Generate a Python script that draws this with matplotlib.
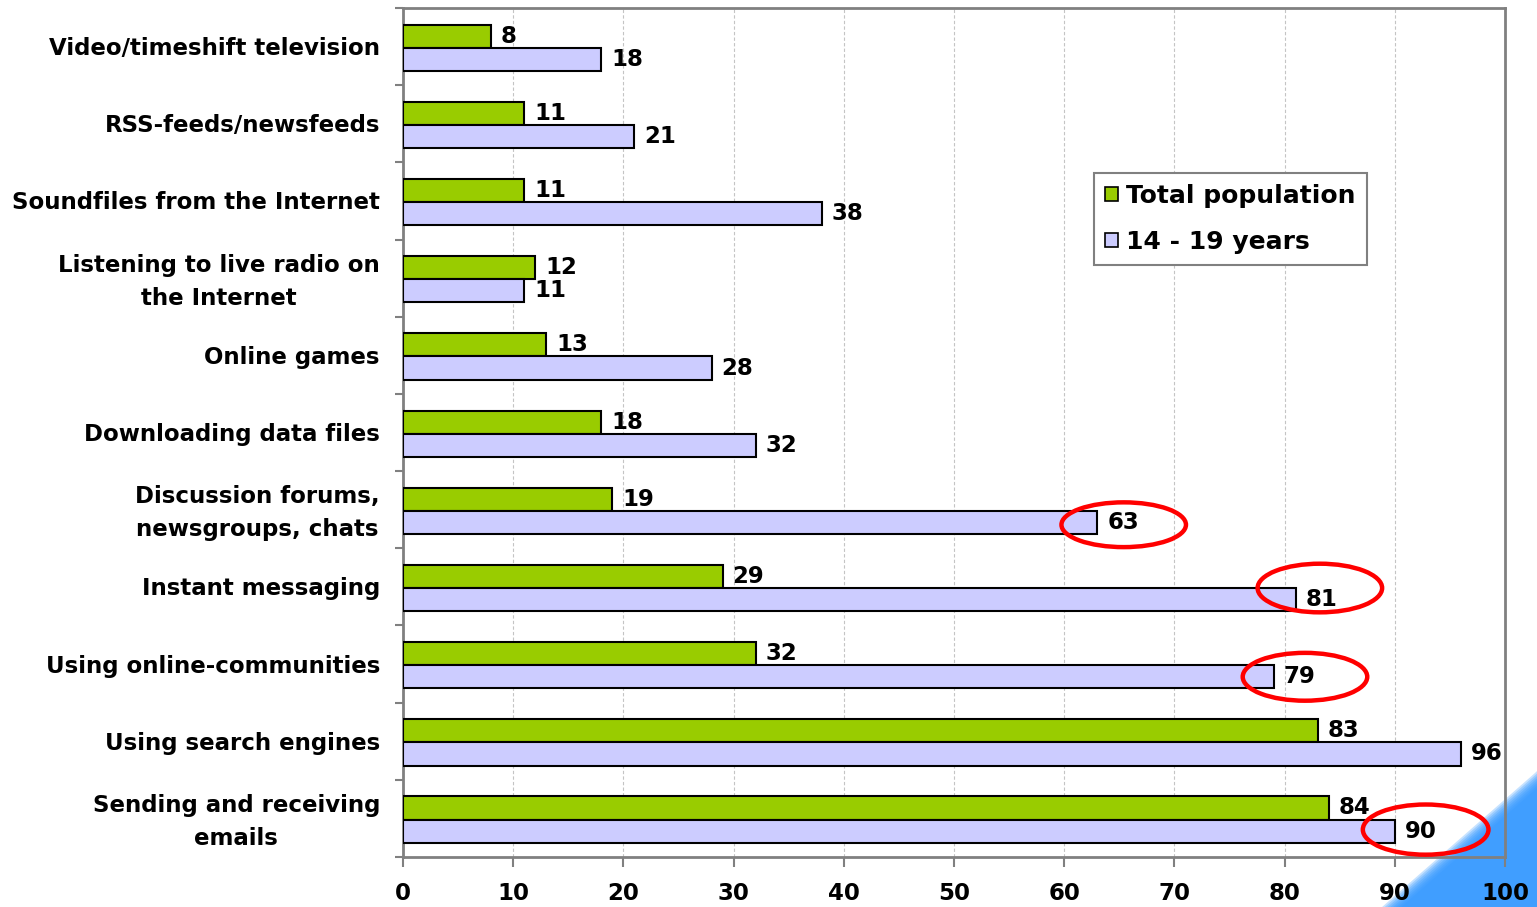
import matplotlib
matplotlib.use("Agg")
import matplotlib.pyplot as plt
from matplotlib.patches import Ellipse, Polygon, Patch
from matplotlib.transforms import ScaledTranslation
import numpy as np

# ---- data -------------------------------------------------------------
categories = [
    "Video/timeshift television",
    "RSS-feeds/newsfeeds",
    "Soundfiles from the Internet",
    "Listening to live radio on\nthe Internet",
    "Online games",
    "Downloading data files",
    "Discussion forums,\nnewsgroups, chats",
    "Instant messaging",
    "Using online-communities",
    "Using search engines",
    "Sending and receiving\nemails",
]
total_population = [8, 11, 11, 12, 13, 18, 19, 29, 32, 83, 84]
age_14_19 = [18, 21, 38, 11, 28, 32, 63, 81, 79, 96, 90]
series_names = ["Total population", "14 - 19 years"]
highlighted = [
    "Discussion forums,\nnewsgroups, chats",
    "Instant messaging",
    "Using online-communities",
    "Sending and receiving\nemails",
]
x_ticks = [0, 10, 20, 30, 40, 50, 60, 70, 80, 90, 100]

# ---- style ------------------------------------------------------------
GREEN = "#99CC00"
LILAC = "#CCCCFF"
GRAY = "#808080"
FS = 16.5
FS_LEG = 18

# hand-drawn look of each ring: (dx from value, dy from bar centre, width, height)
ring_shapes = [(2.4, 0.03, 11.3, 0.58),
               (2.2, -0.15, 11.3, 0.63),
               (2.85, 0.0, 11.3, 0.62),
               (2.8, -0.02, 11.4, 0.65)]

plt.rcParams["font.family"] = ["DejaVu Sans"]
plt.rcParams["font.weight"] = "bold"

W, H = 1537, 907
fig = plt.figure(figsize=(W / 100, H / 100), dpi=100)
fig.patch.set_facecolor("white")

# decorative blue corner with a soft edge
def fpt(x, y):
    return (x / W, 1 - y / H)

p_top = np.array([1538.0, 777.0])
p_bot = np.array([1384.0, 907.0])
d = p_bot - p_top
n = np.array([d[1], -d[0]]) / np.hypot(*d)  # normal pointing into the corner
for k in range(8):
    off = n * (k * 1.8 - 5)
    a, b = p_top + off, p_bot + off
    poly = Polygon(
        [fpt(*a), fpt(b[0] - 40, b[1] + 40), fpt(W + 40, H + 40), fpt(W + 40, a[1] - 40)],
        closed=True, transform=fig.transFigure, facecolor="#3399FF",
        edgecolor="none", alpha=0.28, zorder=-5,
    )
    fig.patches.append(poly)

ax = fig.add_axes([403 / W, 50 / H, 1102 / W, 849 / H])
ax.set_facecolor("none")

y = np.arange(len(categories))
bar_h = 0.3
y_green = y - 0.135
y_lilac = y + 0.165

ax.barh(y_green, total_population, height=bar_h, color=GREEN,
        edgecolor="black", linewidth=1.5, zorder=3, label=series_names[0])
ax.barh(y_lilac, age_14_19, height=bar_h, color=LILAC,
        edgecolor="black", linewidth=1.5, zorder=3, label=series_names[1])

for yy, v in zip(y_green, total_population):
    ax.text(v + 0.9, yy, str(v), va="center", ha="left",
            fontsize=FS, fontweight="bold", zorder=5)
for yy, v in zip(y_lilac, age_14_19):
    ax.text(v + 0.9, yy, str(v), va="center", ha="left",
            fontsize=FS, fontweight="bold", zorder=5)

# red rings around the highlighted youth values
for cat, (dx, dy, rw, rh) in zip(highlighted, ring_shapes):
    i = categories.index(cat)
    v = age_14_19[i]
    ring = Ellipse((v + dx, y_lilac[i] + dy), width=rw, height=rh,
                   fill=False, edgecolor="#FF0000", linewidth=3.2,
                   clip_on=False, zorder=6)
    ax.add_patch(ring)

ax.set_xlim(0, 100)
ax.set_ylim(len(categories) - 0.5, -0.5)

ax.set_xticks(x_ticks)
ax.set_xticklabels([str(t) for t in x_ticks], fontsize=FS, fontweight="bold")
ax.tick_params(axis="x", length=7, width=1.5, color=GRAY, pad=11)

ax.set_yticks(np.arange(-0.5, len(categories), 1.0))
ax.set_yticklabels([])
ax.tick_params(axis="y", which="major", length=6, width=1.5, color=GRAY)

# category names, right-aligned next to the axis, lines centred on each other
ytrans = ax.get_yaxis_transform()
for yy, cat in zip(y, categories):
    drop = -3.5 / 100 if "\n" in cat else -2 / 100
    tr = ytrans + ScaledTranslation(-23 / 100, drop, fig.dpi_scale_trans)
    ax.text(0, yy, cat, transform=tr, ha="right", va="center",
            multialignment="center", linespacing=1.55,
            fontsize=FS, fontweight="bold", clip_on=False)

ax.xaxis.grid(True, color="#C4C4C4", linestyle=(0, (3, 2)), linewidth=0.8, zorder=0)
ax.set_axisbelow(True)

for side in ["left", "bottom", "top", "right"]:
    ax.spines[side].set_color(GRAY)
    ax.spines[side].set_linewidth(2)

handles = [Patch(facecolor=GREEN, edgecolor="black", linewidth=1.2),
           Patch(facecolor=LILAC, edgecolor="black", linewidth=1.2)]
leg = ax.legend(handles, series_names, loc="upper left",
                bbox_to_anchor=(0.627, 0.806), borderaxespad=0,
                prop={"weight": "bold", "size": FS_LEG},
                frameon=True, fancybox=False, framealpha=1,
                edgecolor=GRAY, handlelength=0.5, handleheight=0.5,
                handletextpad=0.35, labelspacing=0.87, borderpad=0.45)
leg.get_frame().set_linewidth(1.5)

fig.savefig("out.png", dpi=100, facecolor="white")
